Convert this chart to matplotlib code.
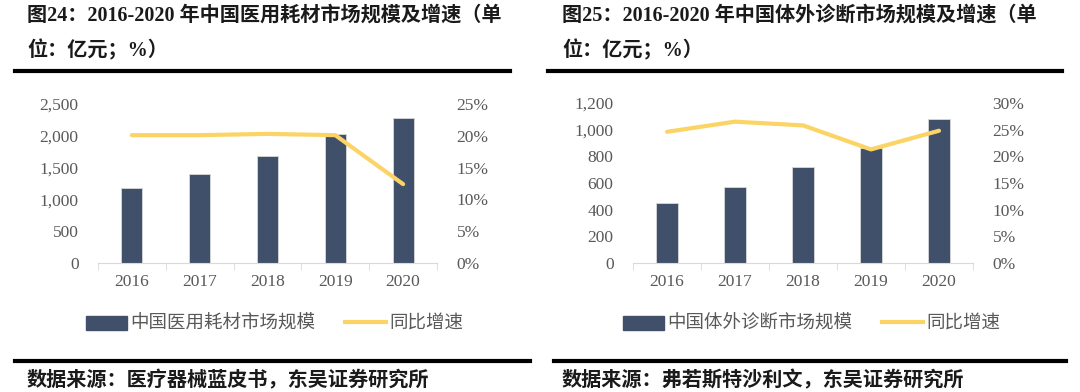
import matplotlib.pyplot as plt
from matplotlib.lines import Line2D
from matplotlib.ticker import FuncFormatter, MultipleLocator

years = ["2016", "2017", "2018", "2019", "2020"]

# left: medical consumables (亿元, %)
consum_size = [1174, 1404, 1689, 2030, 2285]
consum_growth = [20.1, 20.1, 20.3, 20.1, 12.4]

# right: in-vitro diagnostics (亿元, %)
ivd_size = [450, 568, 717, 864, 1083]
ivd_growth = [24.6, 26.5, 25.8, 21.3, 24.8]

BAR = "#41506a"
LINE = "#fbd465"
GREY = "#595959"
CJK = ["Noto Sans CJK SC", "DejaVu Sans"]
MIX = ["Liberation Serif", "Noto Sans CJK SC"]

W, H = 1080, 392
fig = plt.figure(figsize=(W / 100, H / 100), dpi=100)


def px(x0, y0, w, h):
    # pixel box (top-left origin) -> figure fraction
    return [x0 / W, 1 - (y0 + h) / H, w / W, h / H]


def panel(box, sizes, growth, ymax, ystep, rmax, title1, title2, legend_name, source, tx, rule, legend_cx):
    ax = fig.add_axes(px(*box))
    x = range(len(years))
    ax.bar(x, sizes, width=0.31, color=BAR, edgecolor="#d9d9d9", linewidth=0.6, zorder=2)
    ax.set_xlim(-0.5, len(years) - 0.5)
    ax.set_ylim(0, ymax)
    ax.yaxis.set_major_locator(MultipleLocator(ystep))
    ax.yaxis.set_major_formatter(FuncFormatter(lambda v, p: f"{v:,.0f}"))
    ax.set_xticks(x)
    ax.set_xticklabels(years)
    ax.set_xticks([i - 0.5 for i in range(len(years) + 1)], minor=True)
    ax.tick_params(axis="x", which="major", length=0, pad=8)
    ax.tick_params(axis="x", which="minor", length=5, color="#d9d9d9", direction="out")
    ax.tick_params(axis="y", length=0, pad=14)
    for s in ["top", "right", "left"]:
        ax.spines[s].set_visible(False)
    ax.spines["bottom"].set_color("#d9d9d9")
    for lab in ax.get_xticklabels() + ax.get_yticklabels():
        lab.set_fontfamily("Liberation Serif")
        lab.set_fontsize(12.5)
        lab.set_color(GREY)

    ax2 = ax.twinx()
    ax2.plot(x, growth, color=LINE, linewidth=3, solid_capstyle="round", zorder=3)
    ax2.set_ylim(0, rmax)
    ax2.yaxis.set_major_locator(MultipleLocator(5))
    ax2.yaxis.set_major_formatter(FuncFormatter(lambda v, p: f"{v:.0f}%"))
    ax2.tick_params(axis="y", length=0, pad=14)
    for s in ax2.spines.values():
        s.set_visible(False)
    for lab in ax2.get_yticklabels():
        lab.set_fontfamily("Liberation Serif")
        lab.set_fontsize(12.5)
        lab.set_color(GREY)

    # title, rules, source
    fig.text(tx / W, 1 - 16 / H, title1, family=MIX, fontsize=14.5, weight="bold", va="center", color="#1a1a1a")
    fig.text(tx / W, 1 - 51 / H, title2, family=MIX, fontsize=14.5, weight="bold", va="center", color="#1a1a1a")
    fig.add_artist(Line2D([rule[0] / W, rule[1] / W], [1 - 71 / H] * 2, color="black", linewidth=3))
    fig.add_artist(Line2D([rule[2] / W, rule[3] / W], [1 - 361 / H] * 2, color="black", linewidth=3))
    fig.text(tx / W, 1 - 380 / H, source, family=CJK, fontsize=14.5, weight="bold", va="center", color="#1a1a1a")

    handles = [plt.Rectangle((0, 0), 1, 1, color=BAR),
               Line2D([0], [0], color=LINE, linewidth=3)]
    leg = fig.legend(handles, [legend_name, "同比增速"], loc="center",
                     bbox_to_anchor=(legend_cx / W, 1 - 324 / H), ncol=2, frameon=False,
                     prop={"family": CJK, "size": 13.3}, handlelength=2.2, handleheight=0.8,
                     handletextpad=0.2, columnspacing=1.6)
    for t in leg.get_texts():
        t.set_color(GREY)


panel((98, 104, 339, 159), consum_size, consum_growth, 2500, 500, 25,
      "图24：2016-2020 年中国医用耗材市场规模及增速（单", "位：亿元；%）",
      "中国医用耗材市场规模", "数据来源：医疗器械蓝皮书，东吴证券研究所",
      27, (15, 510, 15, 530), 275)

panel((633, 103, 340, 160), ivd_size, ivd_growth, 1200, 200, 30,
      "图25：2016-2020 年中国体外诊断市场规模及增速（单", "位：亿元；%）",
      "中国体外诊断市场规模", "数据来源：弗若斯特沙利文，东吴证券研究所",
      562, (548, 1062, 554, 1066), 812)

fig.savefig("out.png", dpi=100, facecolor="white")
